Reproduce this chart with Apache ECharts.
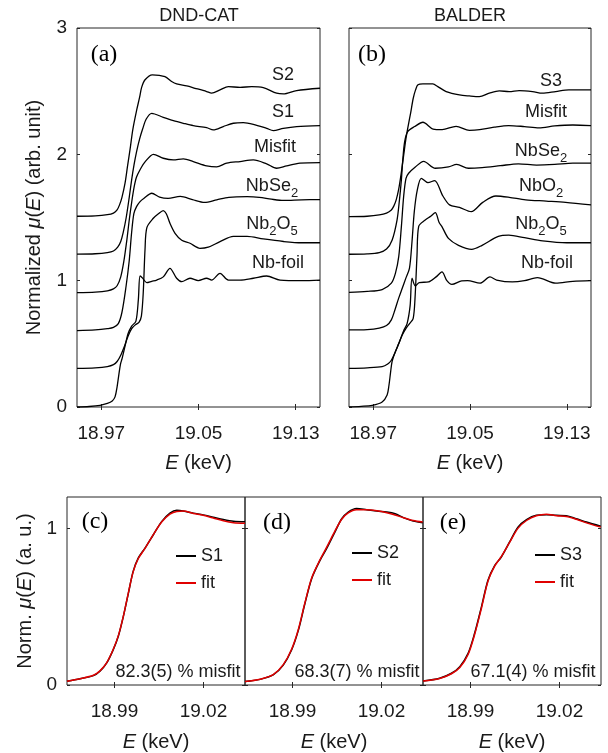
<!DOCTYPE html>
<html>
<head>
<meta charset="utf-8">
<script src="https://cdn.jsdelivr.net/npm/echarts@6/dist/echarts.min.js"></script>
<style>
  html, body { margin: 0; padding: 0; background: #fff; }
  #main { width: 608px; height: 753px; }
</style>
</head>
<body>
<div id="main"></div>
<script>
// ---- data: [E (keV), normalized mu(E) incl. vertical offset] ----
const topTicks = [18.97, 19.05, 19.13];
const fitTicks = [18.99, 19.02];

// panel (a) DND-CAT
const aFoil = [[18.950,0.000],[18.960,0.004],[18.969,0.013],[18.975,0.028],[18.979,0.048],[18.9813,0.08],[18.983,0.16],[18.9845,0.26],[18.9858,0.34],[18.987,0.38],[18.9895,0.48],[18.992,0.58],[18.995,0.64],[18.9985,0.68],[19.0005,0.85],[19.0019,1.037],[19.004,1.02],[19.0074,0.984],[19.0115,0.995],[19.0156,1.005],[19.021,1.03],[19.0265,1.098],[19.032,1.019],[19.0362,0.992],[19.043,1.019],[19.0498,1.0],[19.0567,1.019],[19.0608,1.005],[19.0677,1.058],[19.0746,1.005],[19.0842,1.005],[19.0951,1.019],[19.1061,1.037],[19.1171,1.005],[19.135,1.0],[19.15,1.005]];
const aNb2O5 = [[18.95,0.305],[18.965,0.31],[18.975,0.32],[18.98,0.335],[18.983,0.36],[18.986,0.41],[18.989,0.48],[18.992,0.56],[18.995,0.62],[18.998,0.65],[19.001,0.67],[19.003,0.72],[19.0045,0.9],[19.006,1.25],[19.0075,1.42],[19.0128,1.494],[19.017,1.53],[19.021,1.555],[19.0235,1.53],[19.0265,1.454],[19.0307,1.375],[19.0362,1.32],[19.043,1.296],[19.0512,1.256],[19.058,1.265],[19.0677,1.309],[19.0787,1.35],[19.09,1.35],[19.1033,1.33],[19.12,1.31],[19.135,1.30],[19.15,1.30]];
const aNbSe2 = [[18.95,0.605],[18.965,0.61],[18.975,0.62],[18.98,0.63],[18.984,0.66],[18.987,0.75],[18.9903,0.95],[18.993,1.16],[18.9949,1.375],[18.9968,1.53],[18.999,1.586],[19.0019,1.626],[19.0052,1.652],[19.0115,1.692],[19.018,1.662],[19.025,1.652],[19.035,1.667],[19.045,1.642],[19.055,1.62],[19.065,1.64],[19.075,1.66],[19.09,1.665],[19.1,1.66],[19.11,1.645],[19.12,1.635],[19.135,1.64],[19.15,1.642]];
const aMisfit = [[18.95,0.905],[18.965,0.91],[18.975,0.92],[18.98,0.935],[18.983,0.96],[18.986,1.03],[18.9885,1.15],[18.991,1.32],[18.993,1.48],[18.995,1.62],[18.997,1.74],[18.999,1.82],[19.002,1.88],[19.006,1.94],[19.0129,2.0],[19.021,1.969],[19.0293,1.956],[19.0375,1.964],[19.0457,1.943],[19.0567,1.909],[19.0649,1.9],[19.0732,1.93],[19.0842,1.943],[19.0951,1.956],[19.1061,1.925],[19.1143,1.89],[19.1226,1.909],[19.1335,1.93],[19.15,1.935]];
const aS1 = [[18.95,1.21],[18.965,1.213],[18.975,1.222],[18.98,1.235],[18.9835,1.265],[18.986,1.31],[18.988,1.38],[18.9905,1.5],[18.993,1.66],[18.995,1.8],[18.997,1.92],[18.999,2.02],[19.0015,2.12],[19.004,2.2],[19.007,2.28],[19.0115,2.325],[19.021,2.293],[19.0293,2.267],[19.0375,2.246],[19.0457,2.227],[19.0567,2.211],[19.0622,2.193],[19.0704,2.22],[19.0787,2.246],[19.0869,2.251],[19.0951,2.238],[19.1061,2.206],[19.1116,2.188],[19.1198,2.206],[19.1308,2.22],[19.15,2.227]];
const aS2 = [[18.95,1.51],[18.965,1.513],[18.975,1.522],[18.98,1.535],[18.983,1.56],[18.985,1.6],[18.987,1.66],[18.9895,1.77],[18.9915,1.9],[18.9936,2.035],[18.996,2.2],[18.9991,2.35],[19.0015,2.45],[19.0032,2.53],[19.006,2.59],[19.012,2.629],[19.0224,2.615],[19.0279,2.576],[19.032,2.557],[19.0403,2.541],[19.0471,2.523],[19.0567,2.497],[19.0608,2.484],[19.0677,2.51],[19.0746,2.536],[19.0842,2.53],[19.0938,2.536],[19.1033,2.528],[19.1143,2.484],[19.1198,2.478],[19.1308,2.505],[19.15,2.523]];

// panel (b) BALDER
const bFoil = [[18.95,0.0],[18.96,0.005],[18.9692,0.013],[18.9774,0.04],[18.9815,0.095],[18.983,0.17],[18.9843,0.27],[18.9856,0.36],[18.988,0.43],[18.9911,0.5],[18.995,0.6],[18.998,0.66],[19.0005,0.8],[19.0021,1.02],[19.0048,0.958],[19.008,0.985],[19.0158,0.99],[19.022,1.03],[19.0268,1.069],[19.0309,1.0],[19.035,0.97],[19.0432,0.998],[19.048,1.0],[19.0583,0.98],[19.0665,1.03],[19.072,1.005],[19.085,0.99],[19.095,1.0],[19.1057,1.024],[19.1208,0.98],[19.135,0.995],[19.15,1.0]];
const bNb2O5 = [[18.95,0.306],[18.965,0.31],[18.9774,0.319],[18.982,0.34],[18.985,0.37],[18.988,0.43],[18.991,0.5],[18.994,0.57],[18.997,0.62],[19.0,0.66],[19.003,0.7],[19.0045,0.85],[19.0062,1.2],[19.0076,1.43],[19.013,1.48],[19.0175,1.51],[19.0213,1.539],[19.0245,1.46],[19.0268,1.428],[19.0322,1.335],[19.0405,1.28],[19.0514,1.248],[19.06,1.28],[19.0734,1.35],[19.082,1.36],[19.095,1.34],[19.11,1.315],[19.13,1.30],[19.15,1.30]];
const bNbO2 = [[18.95,0.61],[18.965,0.613],[18.975,0.625],[18.981,0.645],[18.985,0.69],[18.988,0.77],[18.991,0.86],[18.994,0.94],[18.997,1.02],[19.0,1.1],[19.002,1.3],[19.004,1.55],[19.0065,1.72],[19.0098,1.81],[19.0152,1.776],[19.0207,1.792],[19.0276,1.67],[19.0331,1.6],[19.0413,1.58],[19.051,1.546],[19.0605,1.62],[19.0714,1.67],[19.0824,1.66],[19.096,1.64],[19.113,1.63],[19.129,1.62],[19.15,1.60]];
const bNbSe2 = [[18.95,0.908],[18.965,0.915],[18.9774,0.93],[18.985,0.98],[18.9884,1.06],[18.9911,1.19],[18.9933,1.43],[18.9952,1.67],[18.9971,1.81],[18.9993,1.85],[19.0048,1.9],[19.0117,1.945],[19.0213,1.89],[19.0322,1.9],[19.039,1.92],[19.0487,1.89],[19.06,1.895],[19.075,1.91],[19.09,1.925],[19.105,1.915],[19.12,1.92],[19.135,1.93],[19.15,1.93]];
const bMisfit = [[18.95,1.209],[18.965,1.212],[18.975,1.222],[18.981,1.25],[18.9856,1.32],[18.9897,1.48],[18.9917,1.64],[18.9933,1.8],[18.9944,1.95],[18.996,2.1],[18.9985,2.18],[19.0043,2.22],[19.0111,2.254],[19.0195,2.2],[19.027,2.195],[19.0385,2.222],[19.0495,2.19],[19.058,2.195],[19.07,2.215],[19.082,2.228],[19.095,2.22],[19.107,2.21],[19.12,2.225],[19.135,2.232],[19.15,2.228]];
const bS3 = [[18.95,1.507],[18.965,1.51],[18.975,1.52],[18.981,1.535],[18.985,1.56],[18.987,1.59],[18.989,1.64],[18.991,1.72],[18.993,1.84],[18.995,1.98],[18.997,2.12],[18.999,2.23],[19.001,2.33],[19.003,2.44],[19.005,2.51],[19.007,2.55],[19.0111,2.557],[19.0193,2.557],[19.0234,2.536],[19.0303,2.497],[19.0413,2.47],[19.0495,2.462],[19.0577,2.457],[19.066,2.484],[19.0742,2.502],[19.0824,2.497],[19.0906,2.505],[19.1017,2.497],[19.1098,2.484],[19.1208,2.497],[19.1317,2.51],[19.15,2.51]];

// panels (c)-(e): sample vs linear-combination fit
const cS1 = [[18.974,0.024],[18.9784,0.04],[18.9829,0.06],[18.9851,0.088],[18.9874,0.141],[18.9896,0.226],[18.9913,0.311],[18.993,0.438],[18.9947,0.587],[18.9963,0.725],[18.998,0.81],[19.0003,0.874],[19.0031,0.959],[19.0059,1.043],[19.0087,1.097],[19.011,1.115],[19.0132,1.111],[19.0166,1.097],[19.0199,1.086],[19.0233,1.071],[19.0267,1.056],[19.0301,1.045],[19.034,1.042]];
const cFit = [[18.974,0.024],[18.9784,0.04],[18.9829,0.062],[18.9851,0.09],[18.9874,0.143],[18.9896,0.228],[18.9913,0.315],[18.993,0.44],[18.9947,0.59],[18.9963,0.722],[18.998,0.806],[19.0003,0.872],[19.0031,0.96],[19.0059,1.04],[19.0087,1.09],[19.011,1.108],[19.0132,1.11],[19.0166,1.095],[19.0199,1.083],[19.0233,1.066],[19.0267,1.048],[19.0301,1.036],[19.034,1.032]];
const dS2 = [[18.974,0.022],[18.9791,0.036],[18.9835,0.064],[18.9869,0.127],[18.9897,0.223],[18.992,0.35],[18.9942,0.52],[18.9965,0.68],[18.9993,0.796],[19.0015,0.87],[19.0043,0.976],[19.0066,1.061],[19.0088,1.104],[19.0116,1.127],[19.015,1.119],[19.0184,1.11],[19.0218,1.104],[19.0246,1.093],[19.0274,1.068],[19.0307,1.046],[19.0339,1.036]];
const dFit = [[18.974,0.022],[18.9791,0.037],[18.9835,0.066],[18.9869,0.13],[18.9897,0.228],[18.992,0.356],[18.9942,0.525],[18.9965,0.685],[18.9993,0.8],[19.0015,0.878],[19.0043,0.982],[19.0066,1.058],[19.0088,1.098],[19.0116,1.118],[19.015,1.118],[19.0184,1.112],[19.0218,1.1],[19.0246,1.085],[19.0274,1.068],[19.0307,1.05],[19.0339,1.04]];
const eS3 = [[18.974,0.025],[18.9796,0.043],[18.9836,0.075],[18.9864,0.117],[18.9892,0.202],[18.9914,0.33],[18.9937,0.499],[18.9959,0.669],[18.9982,0.764],[19.0004,0.817],[19.0032,0.913],[19.006,1.008],[19.0089,1.055],[19.0122,1.083],[19.0156,1.087],[19.019,1.083],[19.0223,1.081],[19.0257,1.061],[19.0291,1.04],[19.0339,1.013]];
const eFit = [[18.974,0.025],[18.9796,0.042],[18.9836,0.072],[18.9864,0.112],[18.9892,0.195],[18.9914,0.322],[18.9937,0.49],[18.9959,0.662],[18.9982,0.76],[19.0004,0.82],[19.0032,0.91],[19.006,1.0],[19.0089,1.05],[19.0122,1.08],[19.0156,1.09],[19.019,1.08],[19.0223,1.076],[19.0257,1.058],[19.0291,1.035],[19.0339,1.008]];
const misfitText = ['82.3(5) % misfit', '68.3(7) % misfit', '67.1(4) % misfit'];

// ---- chart ----
const SANS = '"Liberation Sans", Arial, sans-serif';
const SERIF = '"Liberation Serif", "Times New Roman", serif';
const AX = '#262626';
const TXT = '#1a1a1a';

const grids = [
  {left: 77, top: 28, width: 243, height: 379},
  {left: 349, top: 28, width: 242, height: 379},
  {left: 67, top: 497, width: 178, height: 188},
  {left: 245, top: 497, width: 178, height: 188},
  {left: 423, top: 497, width: 178, height: 188},
].map(g => Object.assign({show: true, borderColor: AX, borderWidth: 1, backgroundColor: 'transparent'}, g));

const italicRich = {
  n: {fontSize: 20, fontFamily: SANS, color: TXT},
  i: {fontSize: 20, fontFamily: SANS, fontStyle: 'italic', color: TXT}
};
const tick = (vals) => ({show: true, inside: true, length: 3, customValues: vals, lineStyle: {color: AX, width: 1}});

const xAxis = [];
const yAxis = [];
grids.forEach((g, gi) => {
  const top = gi < 2;
  const min = top ? 18.95 : 18.974;
  const max = top ? 19.15 : 19.034;
  const ticks = top ? topTicks : fitTicks;
  xAxis.push({
    type: 'value', gridIndex: gi, position: 'bottom', min, max,
    axisLine: {show: false}, splitLine: {show: false}, axisTick: tick(ticks),
    axisLabel: {customValues: ticks, margin: 17, fontSize: 19, fontFamily: SANS, color: TXT,
                formatter: v => v.toFixed(2)},
    name: '{i|E}{n| (keV)}', nameLocation: 'middle', nameGap: top ? 46 : 47,
    nameTextStyle: {rich: italicRich}
  });
  xAxis.push({
    type: 'value', gridIndex: gi, position: 'top', min, max,
    axisLine: {show: false}, splitLine: {show: false}, axisTick: tick(ticks), axisLabel: {show: false}
  });
  const yVals = top ? [0, 1, 2, 3] : [0, 1];
  const ymax = top ? 3 : 1.2;
  const showY = gi === 0 || gi === 2;
  yAxis.push({
    type: 'value', gridIndex: gi, position: 'left', min: 0, max: ymax,
    axisLine: {show: false}, splitLine: {show: false}, axisTick: tick(yVals),
    axisLabel: {show: showY, customValues: yVals, margin: 10, fontSize: 19, fontFamily: SANS, color: TXT},
    name: gi === 0 ? '{n|Normalized }{i|μ}{n|(}{i|E}{n|) (arb. unit)}' :
          gi === 2 ? '{n|Norm. }{i|μ}{n|(}{i|E}{n|) (a. u.)}' : '',
    nameLocation: 'middle', nameGap: gi === 0 ? 33 : 32,
    nameTextStyle: {rich: italicRich}
  });
  yAxis.push({
    type: 'value', gridIndex: gi, position: 'right', min: 0, max: ymax,
    axisLine: {show: false}, splitLine: {show: false}, axisTick: tick(yVals), axisLabel: {show: false}
  });
});

const series = [];
function addLine(name, gi, data, color, width) {
  series.push({
    name, type: 'line', xAxisIndex: 2 * gi, yAxisIndex: 2 * gi, data,
    showSymbol: false, symbol: 'none', smooth: 0.3, color,
    lineStyle: {color, width}, z: color === '#e00000' ? 3 : 2
  });
}
[['a-foil', aFoil], ['a-Nb2O5', aNb2O5], ['a-NbSe2', aNbSe2], ['a-Misfit', aMisfit], ['a-S1', aS1], ['a-S2', aS2]]
  .forEach(([n, d]) => addLine(n, 0, d, '#000', 1.3));
[['b-foil', bFoil], ['b-Nb2O5', bNb2O5], ['b-NbO2', bNbO2], ['b-NbSe2', bNbSe2], ['b-Misfit', bMisfit], ['b-S3', bS3]]
  .forEach(([n, d]) => addLine(n, 1, d, '#000', 1.3));
addLine('S1', 2, cS1, '#000', 1.5);
addLine('fit', 2, cFit, '#e00000', 1.5);
addLine('S2', 3, dS2, '#000', 1.5);
addLine('fit', 3, dFit, '#e00000', 1.5);
addLine('S3', 4, eS3, '#000', 1.5);
addLine('fit', 4, eFit, '#e00000', 1.5);

const legendBase = {
  orient: 'vertical', icon: 'rect', itemWidth: 20, itemHeight: 2, itemGap: 7, selectedMode: false,
  textStyle: {fontSize: 18, fontFamily: SANS, color: TXT, lineHeight: 20}
};
const legend = [
  Object.assign({data: ['S1', 'fit'], left: 171, top: 541}, legendBase),
  Object.assign({data: ['S2', 'fit'], left: 347, top: 538}, legendBase),
  Object.assign({data: ['S3', 'fit'], left: 530, top: 540}, legendBase)
];

const lblRich = {
  n: {fontSize: 18, fontFamily: SANS, color: TXT},
  s: {fontSize: 13, fontFamily: SANS, color: TXT, padding: [14, 0, 0, 0]}
};
function txt(x, y, text, opts) {
  return {type: 'text', x, y, z: 10, silent: true,
    style: Object.assign({text, fill: TXT, align: 'center', verticalAlign: 'middle',
      fontSize: 18, fontFamily: SANS, rich: lblRich}, opts || {})};
}
const serif = {fontSize: 24, fontFamily: SERIF, fill: '#000'};
const graphic = [
  txt(199, 16, 'DND-CAT', {fontSize: 18}),
  txt(470, 16, 'BALDER', {fontSize: 18}),
  txt(104, 55, '(a)', serif),
  txt(372, 55, '(b)', serif),
  txt(95, 522, '(c)', serif),
  txt(277, 523, '(d)', serif),
  txt(453, 523, '(e)', serif),
  // panel (a) curve names
  txt(283, 75, '{n|S2}'),
  txt(283, 112, '{n|S1}'),
  txt(275, 147, '{n|Misfit}'),
  txt(272, 186, '{n|NbSe}{s|2}'),
  txt(272, 224, '{n|Nb}{s|2}{n|O}{s|5}'),
  txt(278, 263, '{n|Nb-foil}'),
  // panel (b) curve names
  txt(551, 81, '{n|S3}'),
  txt(546, 112, '{n|Misfit}'),
  txt(541, 151, '{n|NbSe}{s|2}'),
  txt(541, 186, '{n|NbO}{s|2}'),
  txt(541, 224, '{n|Nb}{s|2}{n|O}{s|5}'),
  txt(547, 263, '{n|Nb-foil}'),
  // fit results
  txt(178, 672, misfitText[0]),
  txt(357, 672, misfitText[1]),
  txt(533, 672, misfitText[2])
];

const chart = echarts.init(document.getElementById('main'));
chart.setOption({
  animation: false,
  backgroundColor: '#fff',
  grid: grids,
  xAxis, yAxis, series, legend, graphic
});
</script>
</body>
</html>
